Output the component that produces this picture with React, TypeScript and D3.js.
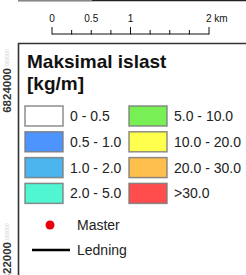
import React, { useEffect, useRef } from 'react';
import * as d3 from 'd3';

// legend classes
const classLabels = ['0 - 0.5', '0.5 - 1.0', '1.0 - 2.0', '2.0 - 5.0', '5.0 - 10.0', '10.0 - 20.0', '20.0 - 30.0', '>30.0'];
const classColors = ['#ffffff', '#4d94ff', '#4cb5ee', '#50f5d2', '#78ef55', '#ffff4d', '#ffbf4d', '#ff4d4d'];

// scale bar (km)
const scaleTicks = [0, 0.25, 0.5, 0.75, 1, 1.25, 1.5, 1.75, 2];
const scaleMajor = [0, 1, 2];
const scaleLabels = ['0', '0.5', '1', '2 km'];
const scaleLabelValues = [0, 0.5, 1, 2];

// map grid labels along left edge
const northings = [6824000, 6822000];

const App: React.FC = () => {
  const svgRef = useRef<SVGSVGElement>(null);

  useEffect(() => {
    if (!svgRef.current) return;
    const svg = d3.select(svgRef.current);
    svg.selectAll('*').remove();

    const width = 246;
    const height = 275;
    const font = 'Liberation Sans, Arial, sans-serif';

    svg.attr('width', width).attr('height', height).attr('font-family', font);

    svg.append('rect').attr('width', width).attr('height', height).attr('fill', '#fff');

    // frame of box above
    svg.append('line').attr('x1', 18).attr('x2', width).attr('y1', 0.5).attr('y2', 0.5)
      .attr('stroke', '#222').attr('stroke-width', 1.5);
    svg.append('line').attr('x1', 18).attr('x2', 92).attr('y1', 0.5).attr('y2', 0.5)
      .attr('stroke', '#888').attr('stroke-width', 1.5);

    // scale bar
    const x = d3.scaleLinear().domain([0, 2]).range([52, 209]);
    const barY = 34;
    const sb = svg.append('g');
    sb.append('line').attr('x1', x(0)).attr('x2', x(2)).attr('y1', barY).attr('y2', barY)
      .attr('stroke', '#111').attr('stroke-width', 1);
    sb.selectAll('.tick').data(scaleTicks).join('line')
      .attr('x1', (d) => x(d)).attr('x2', (d) => x(d))
      .attr('y1', (d) => (scaleMajor.includes(d) ? barY - 7 : barY - 4))
      .attr('y2', barY + 0.5)
      .attr('stroke', '#111').attr('stroke-width', 1);
    sb.selectAll('.lbl').data(scaleLabelValues).join('text')
      .attr('x', (d, i) => (i === scaleLabels.length - 1 ? x(d) - 3 : x(d)))
      .attr('y', 22)
      .attr('text-anchor', (d, i) => (i === scaleLabels.length - 1 ? 'start' : 'middle'))
      .attr('font-size', 10)
      .attr('fill', '#111')
      .text((d, i) => scaleLabels[i]);

    // legend box border
    svg.append('path').attr('d', `M18.5,${height} V43.5 H${width}`)
      .attr('fill', 'none').attr('stroke', '#333').attr('stroke-width', 1.6);

    // northing labels
    const ny = d3.scaleLinear().domain([6824000, 6822000]).range([68, 242]);
    northings.forEach((n) => {
      const y = ny(n);
      svg.append('text')
        .attr('transform', `translate(11,${y}) rotate(-90)`)
        .attr('text-anchor', 'end')
        .attr('font-size', 11.5)
        .attr('font-weight', 'bold')
        .attr('fill', '#333')
        .text(String(n));
      svg.append('text')
        .attr('transform', `translate(9,${y - 2}) rotate(-90)`)
        .attr('text-anchor', 'start')
        .attr('font-size', 5)
        .attr('fill', '#ccc')
        .text('000000');
    });

    // title
    const title = svg.append('text').attr('x', 27).attr('font-size', 19)
      .attr('font-weight', 'bold').attr('fill', '#111');
    title.append('tspan').attr('x', 27).attr('y', 68).text('Maksimal islast');
    title.append('tspan').attr('x', 27).attr('y', 90).text('[kg/m]');

    // legend rows
    const rowY = d3.scaleLinear().domain([0, 1]).range([106, 131.8]);
    const colX = [25, 129];
    const lg = svg.append('g');
    classLabels.forEach((label, i) => {
      const col = Math.floor(i / 4);
      const row = i % 4;
      const gx = colX[col];
      const gy = rowY(row);
      lg.append('rect')
        .attr('x', gx).attr('y', gy).attr('width', 38).attr('height', 20)
        .attr('fill', classColors[i])
        .attr('stroke', '#7a7a7a').attr('stroke-opacity', 0.85).attr('stroke-width', 1.5);
      lg.append('text')
        .attr('x', gx + 45).attr('y', gy + 15)
        .attr('font-size', 14).attr('fill', '#222')
        .text(label);
    });

    // point / line symbols
    svg.append('circle').attr('cx', 50).attr('cy', 225).attr('r', 4.5).attr('fill', '#e8000b');
    svg.append('text').attr('x', 77).attr('y', 230).attr('font-size', 14).attr('fill', '#222').text('Master');
    svg.append('line').attr('x1', 32).attr('x2', 70).attr('y1', 250).attr('y2', 250)
      .attr('stroke', '#000').attr('stroke-width', 2.5);
    svg.append('text').attr('x', 77).attr('y', 255).attr('font-size', 14).attr('fill', '#222').text('Ledning');
  }, []);

  return <svg ref={svgRef} style={{ position: 'absolute', left: 0, top: 0 }}></svg>;
};

export default App;
